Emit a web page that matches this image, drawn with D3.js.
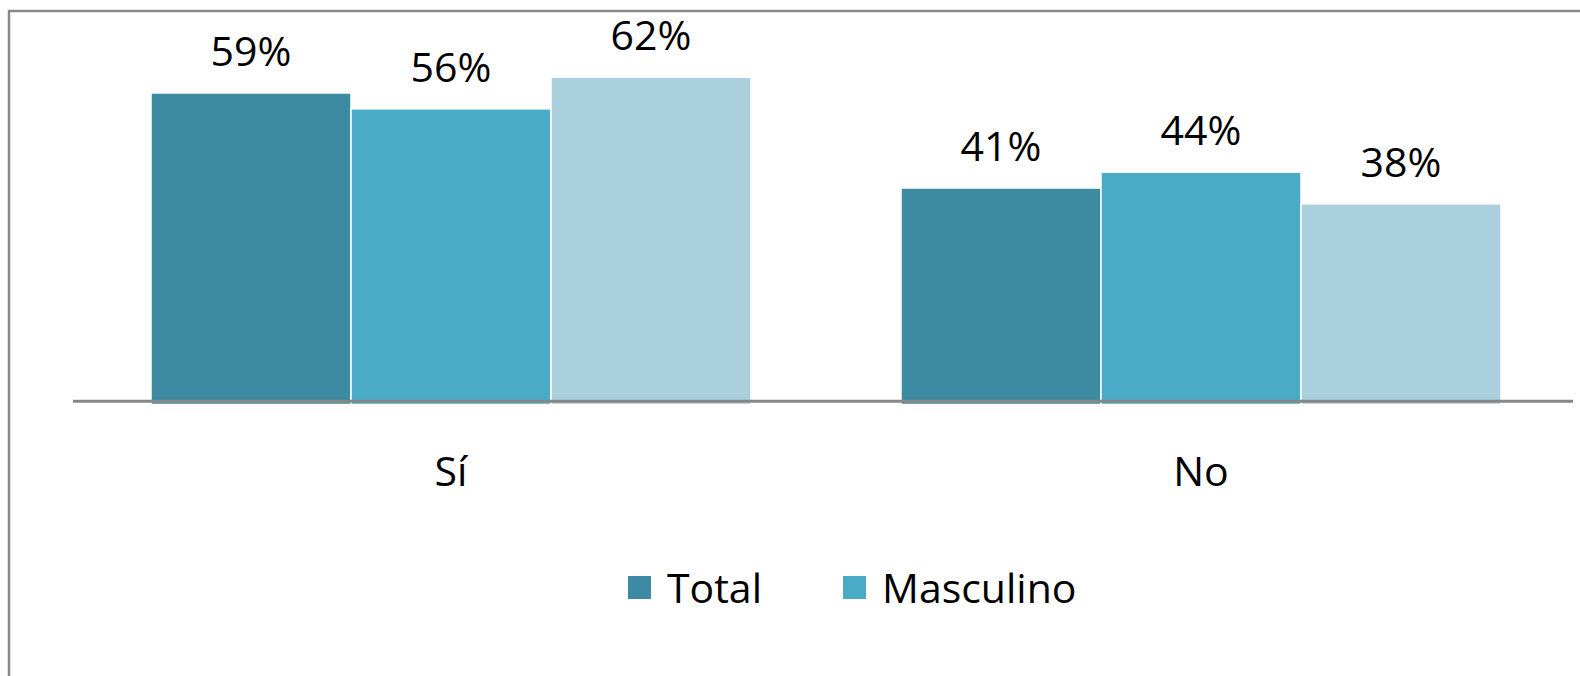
<!DOCTYPE html>
<html>
<head>
<meta charset="utf-8">
<script src="https://cdn.jsdelivr.net/npm/d3@7"></script>
<style>
  body { margin: 0; background: #fff; }
  text { font-family: "Open Sans", "Noto Sans", sans-serif; fill: #000; }
</style>
</head>
<body>
<svg width="1580" height="676"></svg>
<script>
const categories = ["Sí", "No"];
const series = ["Total", "Masculino", "Femenino"];
const total = [0.59, 0.41];
const masculino = [0.56, 0.44];
const femenino = [0.62, 0.38];
const legendItems = ["Total", "Masculino"];

let svg = d3.select("svg");

let color = d3.scaleOrdinal()
    .domain(series)
    .range(["#3d8ba2", "#4babc6", "#aacfdd"]);

let data = categories.map((c, i) => ({
    cat: c,
    values: [
        {key: "Total", value: total[i]},
        {key: "Masculino", value: masculino[i]},
        {key: "Femenino", value: femenino[i]}
    ]
}));

// outer frame (only left and top edges show)
svg.append("rect")
    .attr("x", 9)
    .attr("y", 11)
    .attr("width", 1600)
    .attr("height", 700)
    .attr("fill", "none")
    .attr("stroke", "#898989")
    .attr("stroke-width", 2.5);

let x0 = d3.scaleBand()
    .domain(categories)
    .range([76, 1576])
    .paddingInner(0.2)
    .paddingOuter(0.1);

let x1 = d3.scaleBand()
    .domain(series)
    .range([0, x0.bandwidth()]);

let y = d3.scaleLinear()
    .domain([0, 0.7])
    .range([404.5, 34.9]);

let groups = svg.append("g")
    .selectAll("g")
    .data(data)
    .join("g")
    .attr("transform", d => "translate(" + x0(d.cat) + ",0)");

groups.selectAll("rect")
    .data(d => d.values)
    .join("rect")
    .attr("x", d => x1(d.key))
    .attr("y", d => y(d.value))
    .attr("width", x1.bandwidth())
    .attr("height", d => y(0) - y(d.value))
    .attr("fill", d => color(d.key))
    .attr("stroke", "#fff")
    .attr("stroke-width", 1.5);

groups.selectAll("text.val")
    .data(d => d.values)
    .join("text")
    .attr("class", "val")
    .attr("x", d => x1(d.key) + x1.bandwidth() / 2)
    .attr("y", d => y(d.value) - 27)
    .attr("text-anchor", "middle")
    .attr("font-size", "41px")
    .text(d => d3.format(".0%")(d.value));

// baseline
svg.append("line")
    .attr("x1", 73)
    .attr("x2", 1573)
    .attr("y1", 401.3)
    .attr("y2", 401.3)
    .attr("stroke", "#878787")
    .attr("stroke-width", 3);

// category labels
svg.append("g")
    .selectAll("text")
    .data(categories)
    .join("text")
    .attr("x", d => x0(d) + x0.bandwidth() / 2)
    .attr("y", 486)
    .attr("text-anchor", "middle")
    .attr("font-size", "41px")
    .text(d => d);

// legend
let legend = svg.append("g")
    .selectAll("g")
    .data(legendItems)
    .join("g")
    .attr("transform", (d, i) => "translate(" + [628, 843][i] + ",576)");

legend.append("rect")
    .attr("width", 23)
    .attr("height", 23)
    .attr("fill", d => color(d));

legend.append("text")
    .attr("x", 39)
    .attr("y", 27)
    .attr("font-size", "41px")
    .text(d => d);
</script>
</body>
</html>
